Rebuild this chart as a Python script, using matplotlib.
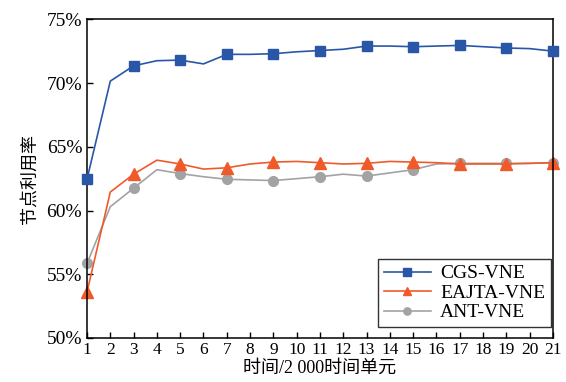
import matplotlib
matplotlib.use("Agg")
import matplotlib.pyplot as plt
from matplotlib.ticker import FuncFormatter

plt.rcParams['font.family'] = ['Liberation Serif', 'Noto Sans CJK SC', 'DejaVu Sans']

x = list(range(1, 22))
cgs = [62.45, 70.15, 71.35, 71.75, 71.8, 71.5, 72.25, 72.25, 72.3, 72.45, 72.55,
       72.65, 72.9, 72.9, 72.85, 72.9, 72.95, 72.85, 72.75, 72.7, 72.5]
eajta = [53.6, 61.45, 62.85, 63.95, 63.65, 63.25, 63.35, 63.65, 63.8, 63.85, 63.75,
         63.65, 63.7, 63.85, 63.8, 63.75, 63.65, 63.65, 63.65, 63.7, 63.75]
ant = [55.85, 60.3, 61.75, 63.2, 62.9, 62.65, 62.45, 62.4, 62.35, 62.5, 62.65,
       62.85, 62.7, 62.95, 63.2, 63.65, 63.7, 63.7, 63.7, 63.7, 63.75]
labels = ['CGS-VNE', 'EAJTA-VNE', 'ANT-VNE']
colors = ['#2a56a8', '#f05a2a', '#a3a3a5']
y_ticks = [50, 55, 60, 65, 70, 75]

fig = plt.figure(figsize=(5.66, 3.82), dpi=100)
ax = fig.add_axes([0.1537, 0.1152, 0.8233, 0.8343])

every = slice(0, None, 2)
ax.plot(x, cgs, color=colors[0], lw=1.2, marker='s', ms=7, markevery=every,
        label=labels[0], zorder=3, clip_on=False)
ax.plot(x, eajta, color=colors[1], lw=1.2, marker='^', ms=8, markevery=every,
        label=labels[1], zorder=2, clip_on=False)
ax.plot(x, ant, color=colors[2], lw=1.2, marker='o', ms=7, markevery=every,
        label=labels[2], zorder=1, clip_on=False)

ax.set_xlim(1, 21)
ax.set_ylim(50, 75)
ax.set_xticks(x)
ax.set_yticks(y_ticks)
ax.yaxis.set_major_formatter(FuncFormatter(lambda v, p: f"{v:.0f}%"))
ax.tick_params(direction='in', length=4, width=1, labelsize=14, top=False, right=False, colors='black')
ax.tick_params(axis='x', labelsize=12.5, pad=3)
for s in ax.spines.values():
    s.set_linewidth(1.1)

ax.set_xlabel('时间/2 000时间单元', fontsize=13, labelpad=1)
ax.set_ylabel('节点利用率', fontsize=13, labelpad=6)

leg = ax.legend(loc='lower right', fontsize=14, frameon=True, fancybox=False,
                edgecolor='black', handlelength=2.4, borderpad=0.3, labelspacing=0.1,
                handletextpad=0.5, markerscale=0.75, bbox_to_anchor=(1.017, 0.003))
leg.get_frame().set_linewidth(1.0)
leg.set_zorder(5)

fig.savefig('out.png', dpi=100)
